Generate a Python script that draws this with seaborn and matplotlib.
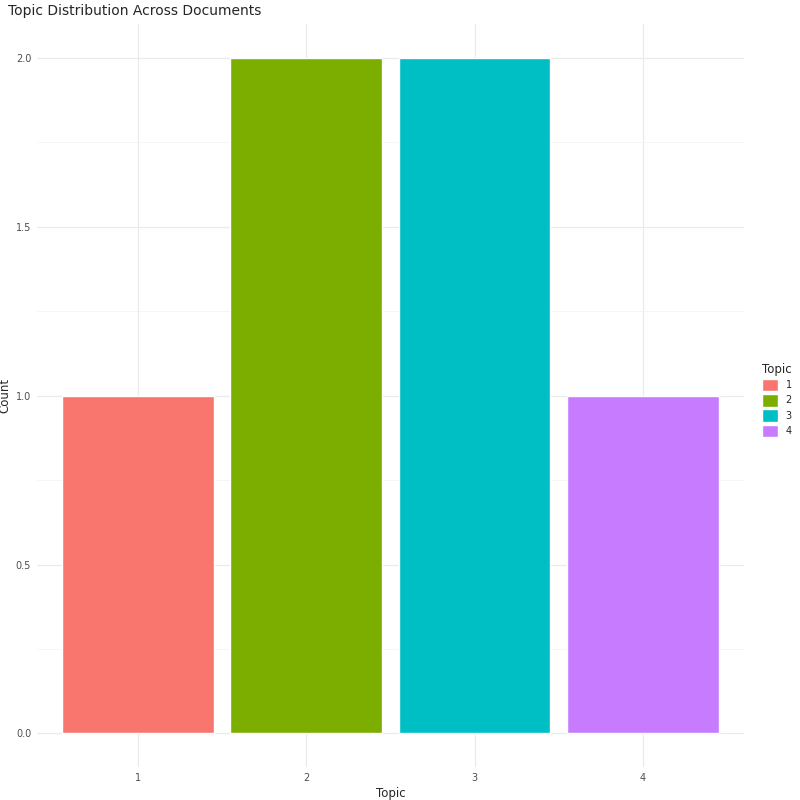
import matplotlib
matplotlib.use("Agg")
import matplotlib.pyplot as plt
import seaborn as sns
import pandas as pd
from matplotlib.patches import Patch

topics = ["1", "2", "3", "4"]
counts = [1, 2, 2, 1]
colors = ["#F8766D", "#7CAE00", "#00BFC4", "#C77CFF"]

df = pd.DataFrame({"Topic": topics, "Count": counts})

sns.set_theme(style="white")
plt.rcParams['font.family'] = ['DejaVu Sans']

fig = plt.figure(figsize=(8, 8), dpi=100)
ax = fig.add_axes([0.046, 0.041, 0.884, 0.929])

sns.barplot(data=df, x="Topic", y="Count", hue="Topic", palette=colors,
            width=0.9, saturation=1, legend=False, ax=ax, zorder=2)

ax.set_xlim(-0.6, 3.6)
ax.set_ylim(-0.1, 2.1)
ax.set_yticks([0, 0.5, 1.0, 1.5, 2.0])
ax.set_yticklabels(["0.0", "0.5", "1.0", "1.5", "2.0"])
ax.set_yticks([0.25, 0.75, 1.25, 1.75], minor=True)
ax.grid(True, which="major", color="#EBEBEB", lw=0.9, zorder=0)
ax.grid(True, which="minor", axis="y", color="#F2F2F2", lw=0.5, zorder=0)
ax.set_axisbelow(True)
for s in ax.spines.values():
    s.set_visible(False)
ax.tick_params(length=0, labelsize=7, colors="#4D4D4D", pad=4)
ax.set_xlabel("Topic", fontsize=8.5, labelpad=3)
ax.set_ylabel("Count", fontsize=8.5, labelpad=3)
fig.text(0.01, 0.978, "Topic Distribution Across Documents", fontsize=10, va="bottom")

handles = [Patch(facecolor=c, label=t) for t, c in zip(topics, colors)]
fig.legend(handles=handles, title="Topic", loc="center left",
           bbox_to_anchor=(0.942, 0.5), frameon=False, fontsize=7,
           title_fontsize=8.5, handlelength=1.6, handleheight=1.6,
           labelspacing=0.3, alignment="left")

fig.savefig("out.png", dpi=100)
